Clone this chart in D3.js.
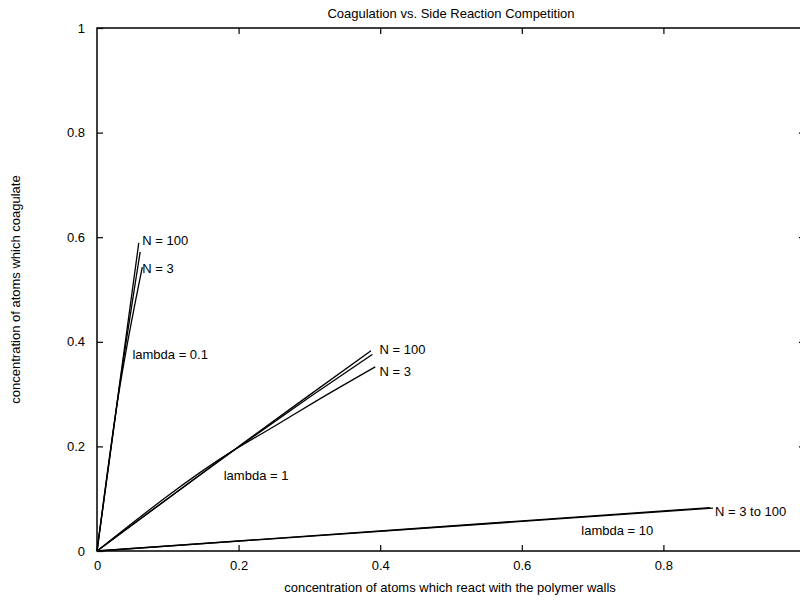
<!DOCTYPE html>
<html>
<head>
<meta charset="utf-8">
<script src="https://cdn.jsdelivr.net/npm/d3@7.9.0/dist/d3.min.js"></script>
<style>
  html, body { margin: 0; padding: 0; background: #fff; }
  svg { display: block; }
  text { font-family: "Liberation Sans", Arial, sans-serif; font-size: 13px; fill: #000; }
</style>
</head>
<body>
<svg id="chart" width="800" height="601"></svg>
<script>
// tick values
const xTicks = [0, 0.2, 0.4, 0.6, 0.8];
const yTicks = [0, 0.2, 0.4, 0.6, 0.8, 1];

// curves: [side reaction, coagulate]
const lambda01N100 = [[0, 0], [0.03, 0.30], [0.059, 0.589]];
const lambda01Mid = [[0, 0], [0.03, 0.298], [0.061, 0.572]];
const lambda01N3 = [[0, 0], [0.03, 0.295], [0.064, 0.543]];
const lambda1N100 = [[0, 0], [0.2, 0.2], [0.3, 0.298], [0.387, 0.383]];
const lambda1Mid = [[0, 0], [0.2, 0.199], [0.3, 0.294], [0.389, 0.376]];
const lambda1N3 = [[0, 0], [0.19, 0.19], [0.25, 0.238], [0.31, 0.287], [0.393, 0.352]];
const lambda10N100 = [[0, 0], [0.866, 0.083]];
const lambda10N3 = [[0, 0], [0.87, 0.082]];

const curves = [lambda01N100, lambda01Mid, lambda01N3, lambda1N100, lambda1Mid, lambda1N3, lambda10N100, lambda10N3];

const labels = [
  { text: "N = 100", x: 0.064, y: 0.594 },
  { text: "N = 3", x: 0.064, y: 0.54 },
  { text: "lambda = 0.1", x: 0.05, y: 0.375 },
  { text: "N = 100", x: 0.399, y: 0.385 },
  { text: "N = 3", x: 0.399, y: 0.343 },
  { text: "lambda = 1", x: 0.179, y: 0.145 },
  { text: "N = 3 to 100", x: 0.873, y: 0.076 },
  { text: "lambda = 10", x: 0.684, y: 0.04 }
];

const svg = d3.select('#chart');
const m = { left: 97, right: 805, top: 28, bottom: 551 };

const x = d3.scaleLinear().domain([0, 1]).range([m.left, m.right]);
const y = d3.scaleLinear().domain([0, 1]).range([m.bottom, m.top]);

// frame
svg.append('rect')
  .attr('x', m.left).attr('y', m.top)
  .attr('width', m.right - m.left).attr('height', m.bottom - m.top)
  .attr('fill', 'none').attr('stroke', '#000').attr('stroke-width', 1.5);

svg.append('g').attr('transform', `translate(0,${m.bottom})`)
  .call(d3.axisBottom(x).tickValues(xTicks).tickSizeInner(-6).tickSizeOuter(0).tickPadding(10)
    .tickFormat(d3.format('')));
svg.append('g').attr('transform', `translate(${m.left},0)`)
  .call(d3.axisLeft(y).tickValues(yTicks).tickSizeInner(-6).tickSizeOuter(0).tickPadding(12)
    .tickFormat(d3.format('')));
svg.append('g').attr('transform', `translate(0,${m.top})`)
  .call(d3.axisTop(x).tickValues(xTicks.slice(1)).tickSizeInner(-6).tickSizeOuter(0).tickFormat(''));
svg.append('g').attr('transform', `translate(${m.right},0)`)
  .call(d3.axisRight(y).tickValues(yTicks.slice(1, -1)).tickSizeInner(-6).tickSizeOuter(0).tickFormat(''));

svg.selectAll('.domain').remove();
svg.selectAll('.tick line').attr('stroke', '#000').attr('stroke-width', 1.2);
svg.selectAll('.tick text').style('font-size', '13px').style('font-family', '"Liberation Sans", Arial, sans-serif');

const line = d3.line().x(d => x(d[0])).y(d => y(d[1])).curve(d3.curveMonotoneX);

svg.append('g').selectAll('path')
  .data(curves)
  .join('path')
  .attr('d', line)
  .attr('fill', 'none')
  .attr('stroke', '#000')
  .attr('stroke-width', 1.3);

svg.append('g').selectAll('text')
  .data(labels)
  .join('text')
  .attr('x', d => x(d.x))
  .attr('y', d => y(d.y))
  .attr('dy', '0.35em')
  .text(d => d.text);

svg.append('text')
  .attr('x', 451).attr('y', 18)
  .attr('text-anchor', 'middle')
  .text('Coagulation vs. Side Reaction Competition');

svg.append('text')
  .attr('x', 450).attr('y', 592)
  .attr('text-anchor', 'middle')
  .text('concentration of atoms which react with the polymer walls');

svg.append('text')
  .attr('transform', `translate(20,${(m.top + m.bottom) / 2}) rotate(-90)`)
  .attr('text-anchor', 'middle')
  .text('concentration of atoms which coagulate');
</script>
</body>
</html>
